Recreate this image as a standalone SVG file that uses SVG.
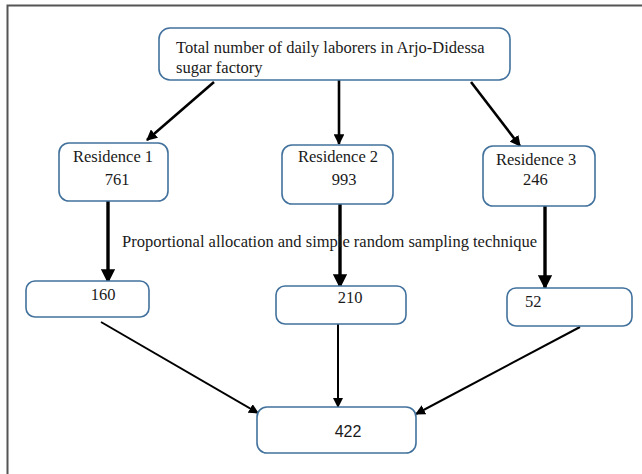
<svg xmlns="http://www.w3.org/2000/svg" width="642" height="474" viewBox="0 0 642 474">
<style>
.box{fill:#fff;stroke:#41719c;stroke-width:1.6}
.t{font-family:"Liberation Serif","Times New Roman",serif;font-size:16.5px;fill:#1a1a1a}
.s{font-family:"Liberation Sans",Arial,sans-serif;font-size:16px;fill:#1a1a1a}
.c{stroke:#000;fill:none}
</style>
<defs>
<marker id="ah" viewBox="0 0 10 10" refX="9" refY="5" markerWidth="4.2" markerHeight="4.2" markerUnits="strokeWidth" orient="auto">
<path d="M0,0 L10,5 L0,10 z" fill="#000"/>
</marker>
<marker id="ah2" viewBox="0 0 10 10" refX="9" refY="5" markerWidth="5" markerHeight="5" markerUnits="strokeWidth" orient="auto">
<path d="M0,0 L10,5 L0,10 z" fill="#000"/>
</marker>
</defs>
<rect width="642" height="474" fill="#fff"/>
<path d="M7.5,474 V5.5 H642" fill="none" stroke="#555" stroke-width="2"/>
<g id="connectors">
<line class="c" x1="214" y1="82" x2="147" y2="140" stroke-width="2.6" marker-end="url(#ah)"/>
<line class="c" x1="339" y1="80" x2="339" y2="144" stroke-width="2.6" marker-end="url(#ah)"/>
<line class="c" x1="471" y1="82" x2="520" y2="146" stroke-width="2.6" marker-end="url(#ah)"/>
<line class="c" x1="108" y1="201" x2="108" y2="282" stroke-width="3.4" marker-end="url(#ah)"/>
<line class="c" x1="340" y1="204" x2="340" y2="287" stroke-width="3.4" marker-end="url(#ah)"/>
<line class="c" x1="545" y1="206" x2="545" y2="288" stroke-width="3.4" marker-end="url(#ah)"/>
<line class="c" x1="101" y1="322" x2="258" y2="413" stroke-width="2" marker-end="url(#ah2)"/>
<line class="c" x1="338" y1="324" x2="338" y2="407" stroke-width="2" marker-end="url(#ah2)"/>
<line class="c" x1="580" y1="327" x2="416" y2="414" stroke-width="2" marker-end="url(#ah2)"/>
</g>
<g id="top">
<rect class="box" x="159" y="28" width="351" height="52" rx="11"/>
<text class="t" x="176" y="53">Total number of daily laborers in Arjo-Didessa</text>
<text class="t" x="176" y="73">sugar factory</text>
</g>
<g id="res1">
<rect class="box" x="59" y="143" width="109" height="58" rx="10"/>
<text class="t" x="113" y="162" text-anchor="middle">Residence 1</text>
<text class="t" x="117" y="185" text-anchor="middle">761</text>
</g>
<g id="res2">
<rect class="box" x="282" y="145" width="111" height="59" rx="10"/>
<text class="t" x="338" y="162" text-anchor="middle">Residence 2</text>
<text class="t" x="344" y="185" text-anchor="middle">993</text>
</g>
<g id="res3">
<rect class="box" x="483" y="146" width="112" height="60" rx="10"/>
<text class="t" x="496" y="165">Residence 3</text>
<text class="t" x="523" y="185">246</text>
</g>
<g id="label">
<text class="t" x="122" y="247">Proportional allocation and simple random sampling technique</text>
</g>
<g id="n160">
<rect class="box" x="26" y="281" width="123" height="36" rx="9"/>
<text class="t" x="103" y="300" text-anchor="middle">160</text>
</g>
<g id="n210">
<rect class="box" x="276" y="286" width="130" height="38" rx="9"/>
<text class="t" x="350" y="303" text-anchor="middle">210</text>
</g>
<g id="n52">
<rect class="box" x="507" y="288" width="125" height="38" rx="9"/>
<text class="t" x="525" y="307">52</text>
</g>
<g id="n422">
<rect class="box" x="257" y="407" width="159" height="46" rx="10"/>
<text class="s" x="348" y="437" text-anchor="middle">422</text>
</g>
</svg>
